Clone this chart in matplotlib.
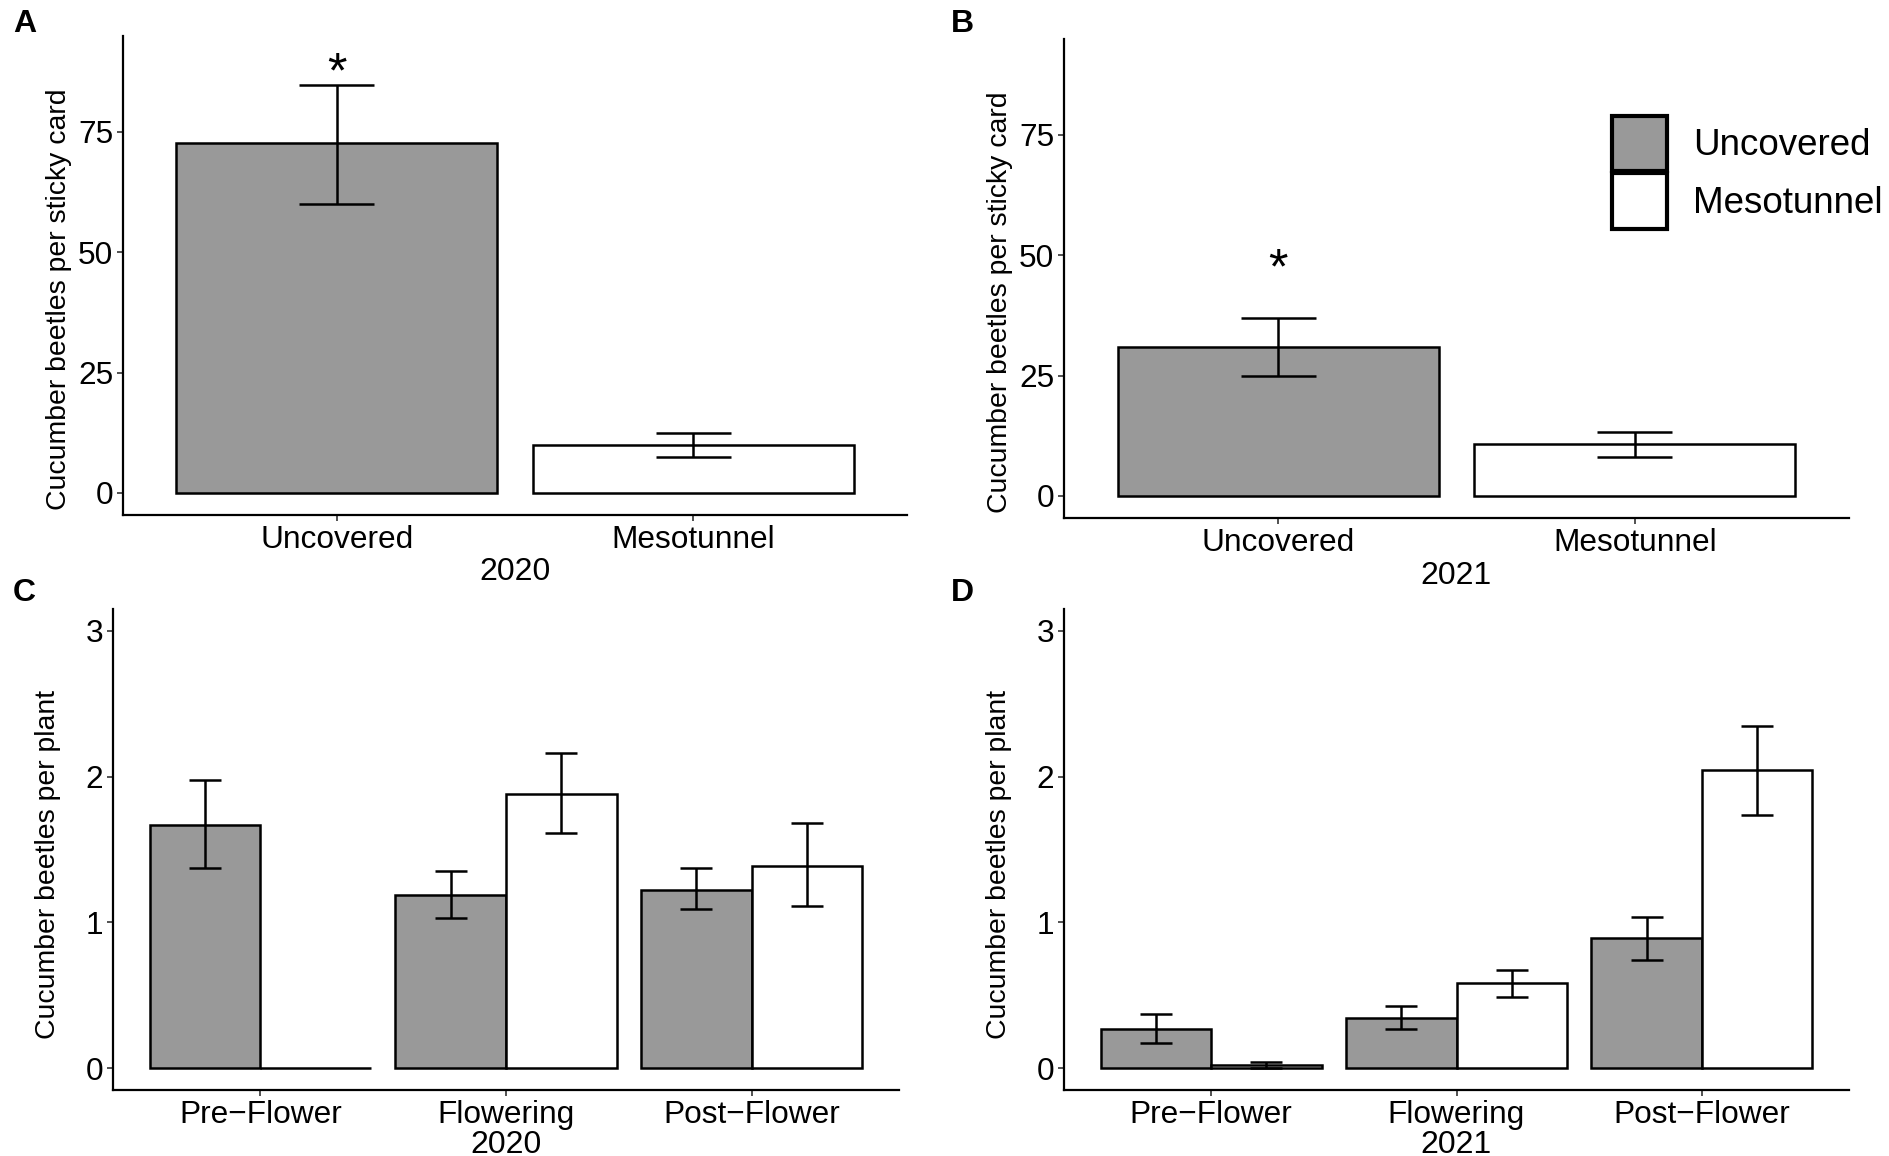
#!/usr/bin/env python3

import matplotlib
matplotlib.use('Agg')
import matplotlib.pyplot as plt
from matplotlib.patches import Patch

plt.rcParams['font.family'] = ['Liberation Sans', 'DejaVu Sans']

# sticky cards (panels A, B)
treatments = ['Uncovered', 'Mesotunnel']
card_2020 = [72.6, 9.9]
card_2020_lo = [60.1, 7.4]
card_2020_hi = [84.7, 12.5]
card_2021 = [30.9, 10.7]
card_2021_lo = [24.9, 8.0]
card_2021_hi = [37.0, 13.2]
star_2020 = 88.9
star_2021 = 48.8

# plant counts (panels C, D)
stages = ['Pre\u2212Flower', 'Flowering', 'Post\u2212Flower']
unc_2020 = [1.67, 1.19, 1.225]
unc_2020_lo = [1.37, 1.03, 1.09]
unc_2020_hi = [1.98, 1.35, 1.37]
meso_2020 = [0.0, 1.88, 1.39]
meso_2020_lo = [0.0, 1.61, 1.11]
meso_2020_hi = [0.0, 2.16, 1.68]

unc_2021 = [0.27, 0.345, 0.89]
unc_2021_lo = [0.17, 0.27, 0.745]
unc_2021_hi = [0.37, 0.425, 1.035]
meso_2021 = [0.02, 0.585, 2.045]
meso_2021_lo = [0.0, 0.49, 1.74]
meso_2021_hi = [0.04, 0.675, 2.35]

GREY = '#999999'
LW = 1.8
W, H = 1889, 1156


def px_axes(fig, left, top, right, bottom):
    return fig.add_axes([left / W, 1 - bottom / H, (right - left) / W, (bottom - top) / H])


def style(ax):
    for s in ['top', 'right']:
        ax.spines[s].set_visible(False)
    for s in ['left', 'bottom']:
        ax.spines[s].set_linewidth(1.6)
    ax.tick_params(direction='out', length=4, width=1.2, color='#333333',
                   labelsize=22.8, pad=3)


def errbars(ax, xs, lo, hi, half):
    for x, a, b in zip(xs, lo, hi):
        if a == b:
            continue
        ax.vlines(x, a, b, color='black', lw=LW)
        ax.hlines([a, b], x - half, x + half, color='black', lw=LW)


def card_panel(ax, vals, lo, hi, star, year):
    xs = [1, 2]
    ax.bar(xs, vals, width=0.9, color=[GREY, 'white'], edgecolor='black', linewidth=LW)
    errbars(ax, xs, lo, hi, 0.105)
    ax.annotate('*', xy=(1, star), xytext=(0, -7), textcoords='offset points',
                fontsize=36, ha='center', va='center')
    ax.set_xlim(0.4, 2.6)
    ax.set_ylim(-4.6, 94.9)
    ax.set_yticks([0, 25, 50, 75])
    ax.set_xticks(xs)
    ax.set_xticklabels(treatments)
    ax.set_xlabel(year, fontsize=23, labelpad=2)
    ax.set_ylabel('Cucumber beetles per sticky card', fontsize=20.4)
    ax.yaxis.set_label_coords(-0.065, 0.451)
    style(ax)


def plant_panel(ax, unc, unc_lo, unc_hi, meso, meso_lo, meso_hi, year):
    xs = [1, 2, 3]
    xu = [x - 0.225 for x in xs]
    xm = [x + 0.225 for x in xs]
    ax.bar(xu, unc, width=0.45, color=GREY, edgecolor='black', linewidth=LW)
    ax.bar(xm, meso, width=0.45, color='white', edgecolor='black', linewidth=LW)
    errbars(ax, xu, unc_lo, unc_hi, 0.065)
    errbars(ax, xm, meso_lo, meso_hi, 0.065)
    ax.set_xlim(0.4, 3.6)
    ax.set_ylim(-0.15, 3.15)
    ax.set_yticks([0, 1, 2, 3])
    ax.set_xticks(xs)
    ax.set_xticklabels(stages)
    ax.set_xlabel(year, fontsize=23, labelpad=0)
    ax.set_ylabel('Cucumber beetles per plant', fontsize=20.4)
    ax.yaxis.set_label_coords(-0.066, 0.468)
    style(ax)


fig = plt.figure(figsize=(W / 100, H / 100), dpi=100)

ax_a = px_axes(fig, 123, 36, 907, 515)
ax_b = px_axes(fig, 1064, 39, 1849, 518)
ax_c = px_axes(fig, 113, 609, 899, 1090)
ax_d = px_axes(fig, 1064, 609, 1849, 1090)

card_panel(ax_a, card_2020, card_2020_lo, card_2020_hi, star_2020, '2020')
card_panel(ax_b, card_2021, card_2021_lo, card_2021_hi, star_2021, '2021')
plant_panel(ax_c, unc_2020, unc_2020_lo, unc_2020_hi,
            meso_2020, meso_2020_lo, meso_2020_hi, '2020')
plant_panel(ax_d, unc_2021, unc_2021_lo, unc_2021_hi,
            meso_2021, meso_2021_lo, meso_2021_hi, '2021')

handles = [Patch(facecolor=GREY, edgecolor='black', linewidth=3),
           Patch(facecolor='white', edgecolor='black', linewidth=3)]
fig.legend(handles, treatments, loc='upper left',
           bbox_to_anchor=(1597 / W, 1 - 101 / H), frameon=False,
           fontsize=26.5, handlelength=1.5, handleheight=1.95,
           handletextpad=0.7, labelspacing=0.05, borderaxespad=0)

for lab, x, y in [('A', 13, 24), ('B', 951, 24), ('C', 13, 593), ('D', 951, 593)]:
    fig.text(x / W, 1 - y / H, lab, fontsize=23, fontweight='bold', va='center', ha='left')

fig.savefig('out.png', dpi=100)
